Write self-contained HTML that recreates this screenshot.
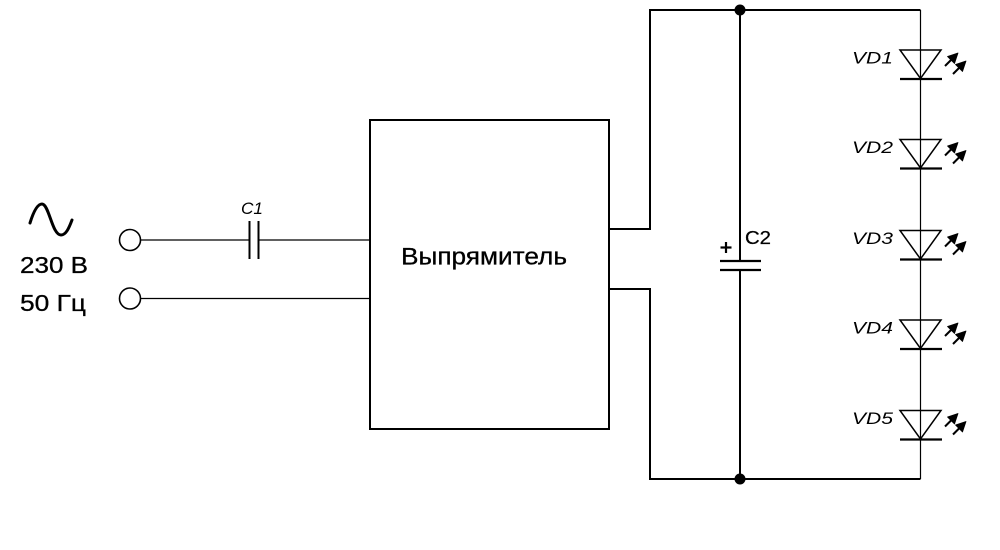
<!DOCTYPE html>
<html>
<head>
<meta charset="utf-8">
<style>
  html,body{margin:0;padding:0;background:#fff;}
  body{width:1000px;height:550px;overflow:hidden;}
  svg{display:block;}
  text{font-family:"Liberation Sans", "DejaVu Sans", sans-serif;fill:#000;}
</style>
</head>
<body>
<svg width="1000" height="550" viewBox="0 0 1000 550" xmlns="http://www.w3.org/2000/svg">
  <defs>
    <g id="arr">
      <line x1="0" y1="0" x2="8" y2="-8" stroke="#000" stroke-width="2"/>
      <polygon points="13,-13 2.5,-9.5 9.5,-2.5" fill="#000" stroke="#000" stroke-width="0.8" stroke-linejoin="round"/>
    </g>
    <g id="led">
      <polygon points="900,0 941,0 920.5,28.5" fill="none" stroke="#000" stroke-width="1.5" stroke-linejoin="miter"/>
      <line x1="900" y1="29" x2="942" y2="29" stroke="#000" stroke-width="2.2"/>
      <use href="#arr" x="945" y="16"/>
      <use href="#arr" x="953" y="24"/>
    </g>
  </defs>

  <!-- Sine symbol -->
  <path d="M30,223 C34,210 38,204 42,204 C49,204 52,235 61,235 C66,235 69,228 72,220" fill="none" stroke="#000" stroke-width="3" stroke-linecap="round"/>
  <text x="20" y="273" font-size="23" stroke="#000" stroke-width="0.3" textLength="68" lengthAdjust="spacingAndGlyphs">230 В</text>
  <text x="20" y="311" font-size="23" stroke="#000" stroke-width="0.3" textLength="66" lengthAdjust="spacingAndGlyphs">50 Гц</text>

  <!-- terminals -->
  <circle cx="130" cy="240" r="10.5" fill="#fff" stroke="#000" stroke-width="1.6"/>
  <circle cx="130" cy="298.5" r="10.5" fill="#fff" stroke="#000" stroke-width="1.6"/>
  <line x1="140.5" y1="240" x2="249" y2="240" stroke="#000" stroke-width="1.2"/>
  <line x1="259" y1="240" x2="370" y2="240" stroke="#000" stroke-width="1.2"/>
  <line x1="140.5" y1="298.5" x2="370" y2="298.5" stroke="#000" stroke-width="1.2"/>

  <!-- C1 -->
  <line x1="249.5" y1="221" x2="249.5" y2="259" stroke="#000" stroke-width="2"/>
  <line x1="258.5" y1="221" x2="258.5" y2="259" stroke="#000" stroke-width="2"/>
  <text x="241" y="214" font-size="17" font-style="italic" textLength="22" lengthAdjust="spacingAndGlyphs">C1</text>

  <!-- Rectifier box -->
  <rect x="370" y="120" width="239" height="309" fill="none" stroke="#000" stroke-width="2"/>
  <text x="401" y="264.5" font-size="24" stroke="#000" stroke-width="0.3" textLength="166" lengthAdjust="spacingAndGlyphs">Выпрямитель</text>

  <!-- output wiring -->
  <polyline points="609,229 650,229 650,10 920.5,10" fill="none" stroke="#000" stroke-width="2"/>
  <polyline points="609,289 650,289 650,479 920.5,479" fill="none" stroke="#000" stroke-width="2"/>

  <!-- C2 -->
  <line x1="740" y1="10" x2="740" y2="261" stroke="#000" stroke-width="2"/>
  <line x1="740" y1="270" x2="740" y2="479" stroke="#000" stroke-width="2"/>
  <line x1="720" y1="261" x2="761" y2="261" stroke="#000" stroke-width="2.2"/>
  <line x1="720" y1="270" x2="761" y2="270" stroke="#000" stroke-width="2.2"/>
  <line x1="720.5" y1="247.5" x2="731.5" y2="247.5" stroke="#000" stroke-width="2.2"/>
  <line x1="726" y1="242" x2="726" y2="253" stroke="#000" stroke-width="2.2"/>
  <text x="745" y="244" font-size="18" stroke="#000" stroke-width="0.25" textLength="26" lengthAdjust="spacingAndGlyphs">C2</text>

  <circle cx="740" cy="10" r="5.5" fill="#000"/>
  <circle cx="740" cy="479" r="5.5" fill="#000"/>

  <!-- LEDs -->
  <g transform="translate(0,50)"><use href="#led"/></g>
  <g transform="translate(0,139.5)"><use href="#led"/></g>
  <g transform="translate(0,230.5)"><use href="#led"/></g>
  <g transform="translate(0,320)"><use href="#led"/></g>
  <g transform="translate(0,410.5)"><use href="#led"/></g>
  <line x1="920.5" y1="10" x2="920.5" y2="479" stroke="#000" stroke-width="1.2"/>

  <text x="852" y="63.5" font-size="17" font-style="italic" textLength="41" lengthAdjust="spacingAndGlyphs">VD1</text>
  <text x="852" y="153" font-size="17" font-style="italic" textLength="41" lengthAdjust="spacingAndGlyphs">VD2</text>
  <text x="852" y="244" font-size="17" font-style="italic" textLength="41" lengthAdjust="spacingAndGlyphs">VD3</text>
  <text x="852" y="333.5" font-size="17" font-style="italic" textLength="41" lengthAdjust="spacingAndGlyphs">VD4</text>
  <text x="852" y="424" font-size="17" font-style="italic" textLength="41" lengthAdjust="spacingAndGlyphs">VD5</text>
</svg>
</body>
</html>
